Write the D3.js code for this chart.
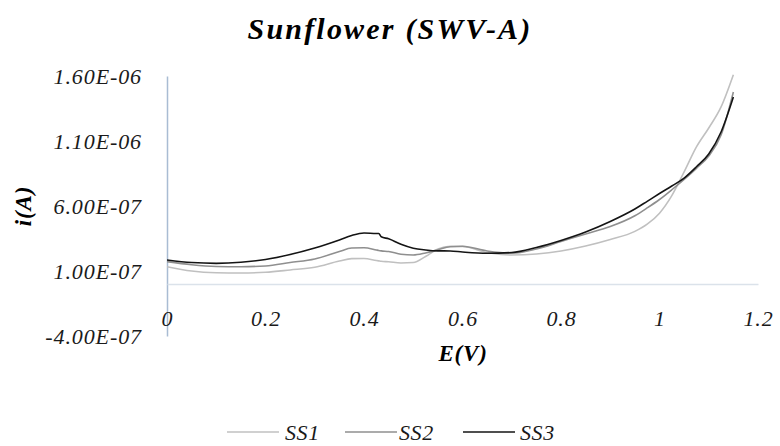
<!DOCTYPE html>
<html>
<head>
<meta charset="utf-8">
<script src="https://cdn.jsdelivr.net/npm/d3@7"></script>
<style>
  html, body { margin: 0; padding: 0; background: #fff; }
  svg { display: block; }
</style>
</head>
<body>
<svg id="chart" width="780" height="446"></svg>
<script>
// ---- Data ----
const potentials = [0, 0.05, 0.1, 0.15, 0.2, 0.25, 0.3, 0.35, 0.375, 0.4, 0.425, 0.43, 0.435, 0.45, 0.475, 0.5, 0.525, 0.55, 0.575, 0.6, 0.65, 0.7, 0.75, 0.8, 0.85, 0.9, 0.95, 0.975, 1.0, 1.025, 1.05, 1.075, 1.1, 1.125, 1.15];
// currents in units of 1e-7 A
const ss1 = [1.33, 1.00, 0.87, 0.85, 0.90, 1.08, 1.29, 1.77, 1.95, 1.96, 1.81, 1.78, 1.75, 1.71, 1.62, 1.65, 2.12, 2.69, 2.90, 2.89, 2.42, 2.23, 2.31, 2.54, 2.92, 3.42, 4.05, 4.60, 5.45, 6.80, 8.62, 10.54, 12.00, 13.62, 16.10];
const ss2 = [1.72, 1.48, 1.35, 1.33, 1.39, 1.65, 1.92, 2.50, 2.77, 2.79, 2.62, 2.58, 2.55, 2.50, 2.29, 2.23, 2.39, 2.63, 2.87, 2.90, 2.54, 2.36, 2.69, 3.27, 3.85, 4.42, 5.25, 5.85, 6.50, 7.25, 8.05, 8.90, 9.85, 11.46, 14.77];
const ss3 = [1.85, 1.65, 1.59, 1.67, 1.89, 2.27, 2.77, 3.39, 3.73, 3.92, 3.88, 3.88, 3.63, 3.48, 3.05, 2.75, 2.62, 2.55, 2.54, 2.46, 2.36, 2.42, 2.81, 3.35, 4.00, 4.81, 5.77, 6.36, 6.96, 7.54, 8.15, 9.02, 10.00, 11.69, 14.38];
const seriesNames = ["SS1", "SS2", "SS3"];
const seriesColors = ["#c0c0c0", "#8f8f8f", "#141414"];
const xTicks = [0, 0.2, 0.4, 0.6, 0.8, 1, 1.2];
const yTicks = [-4e-7, 1e-7, 6e-7, 1.1e-6, 1.6e-6];
const titleText = "Sunflower (SWV-A)";
const xTitle = "E(V)";
const yTitle = "i(A)";

// ---- Chart ----
const svg = d3.select("#chart");
const FONT = "'Liberation Serif', 'DejaVu Serif', serif";
const plotL = 167, plotR = 758, plotT = 76, plotB = 336;

const x = d3.scaleLinear().domain([0, 1.2]).range([plotL, plotR]);
const y = d3.scaleLinear().domain([-4e-7, 1.6e-6]).range([plotB, plotT]);

function sci(d) {
  if (d === 0) return "0.00E+00";
  let e = Math.floor(Math.log10(Math.abs(d)) + 1e-9);
  let m = d / Math.pow(10, e);
  let ms = m.toFixed(2);
  const sign = e < 0 ? "-" : "+";
  const es = String(Math.abs(e)).padStart(2, "0");
  return ms + "E" + sign + es;
}

// Title
svg.append("text")
  .attr("x", 390).attr("y", 39)
  .attr("text-anchor", "middle")
  .style("font-family", FONT)
  .style("font-style", "italic").style("font-weight", "bold")
  .style("font-size", "30px").style("letter-spacing", "2.2px")
  .style("fill", "#000")
  .text(titleText);

// Y axis
const yAxis = svg.append("g")
  .attr("transform", `translate(${plotL},0)`)
  .call(d3.axisLeft(y).tickValues(yTicks).tickSize(0).tickPadding(25).tickFormat(sci));
yAxis.select(".domain").attr("stroke", "#a9bcd3").attr("stroke-width", 1.5);
yAxis.selectAll("text")
  .style("font-family", FONT).style("font-style", "italic")
  .style("font-size", "22px").style("letter-spacing", "0.9px")
  .style("fill", "#1a1a1a");

// X axis (at y = 0)
const xAxis = svg.append("g")
  .attr("transform", `translate(0,${y(0)})`)
  .call(d3.axisBottom(x).tickValues(xTicks).tickSize(0).tickFormat(d3.format("~g")));
xAxis.select(".domain").attr("stroke", "#dbe2ea").attr("stroke-width", 1.5);
xAxis.selectAll("text")
  .attr("y", 34).attr("dy", "0.35em")
  .style("font-family", FONT).style("font-style", "italic")
  .style("font-size", "22px").style("letter-spacing", "0.8px")
  .style("fill", "#1a1a1a");

// Axis titles
svg.append("text")
  .attr("transform", `translate(31,${(plotT + plotB) / 2}) rotate(-90)`)
  .attr("text-anchor", "middle")
  .style("font-family", FONT).style("font-style", "italic").style("font-weight", "bold")
  .style("font-size", "23px").style("letter-spacing", "0.8px")
  .style("fill", "#000")
  .text(yTitle);

svg.append("text")
  .attr("x", 463).attr("y", 361)
  .attr("text-anchor", "middle")
  .style("font-family", FONT).style("font-style", "italic").style("font-weight", "bold")
  .style("font-size", "23px").style("letter-spacing", "0.8px")
  .style("fill", "#000")
  .text(xTitle);

// Lines
svg.append("clipPath").attr("id", "plotClip")
  .append("rect").attr("x", plotL).attr("y", plotT - 2).attr("width", plotR - plotL).attr("height", plotB - plotT + 2);

const line = d3.line()
  .x((d, i) => x(potentials[i]))
  .y(d => y(d * 1e-7))
  .curve(d3.curveMonotoneX);

const series = [ss1, ss2, ss3];
const g = svg.append("g").attr("clip-path", "url(#plotClip)");
series.forEach((vals, k) => {
  g.append("path")
    .datum(vals)
    .attr("fill", "none")
    .attr("stroke", seriesColors[k])
    .attr("stroke-width", 1.6)
    .attr("stroke-linejoin", "round")
    .attr("d", line);
});

// Legend
const legendItems = [
  { x1: 227, x2: 279, tx: 285 },
  { x1: 345, x2: 397, tx: 399 },
  { x1: 463, x2: 515, tx: 520 }
];
const legendY = 432;
const lg = svg.append("g");
seriesNames.forEach((name, k) => {
  const it = legendItems[k];
  lg.append("line")
    .attr("x1", it.x1).attr("x2", it.x2)
    .attr("y1", legendY).attr("y2", legendY)
    .attr("stroke", seriesColors[k]).attr("stroke-width", 1.6);
  lg.append("text")
    .attr("x", it.tx).attr("y", legendY).attr("dy", "0.35em")
    .style("font-family", FONT).style("font-style", "italic")
    .style("font-size", "22px").style("letter-spacing", "0.6px")
    .style("fill", "#1a1a1a")
    .text(name);
});
</script>
</body>
</html>
